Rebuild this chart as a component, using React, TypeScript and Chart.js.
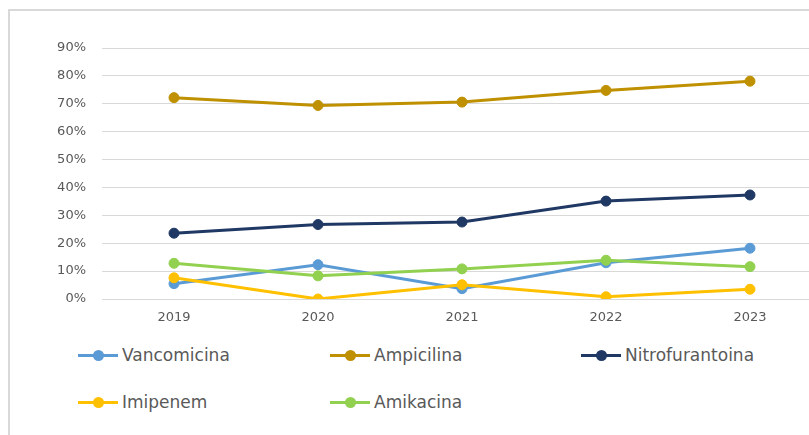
import React, { useEffect, useRef } from "react";
import { Chart, registerables } from "chart.js";

Chart.register(...registerables);

const years = ["2019", "2020", "2021", "2022", "2023"];
const vancomicina = [5.5, 12.3, 3.7, 13.0, 18.2];
const ampicilina = [72.2, 69.4, 70.6, 74.8, 78.1];
const nitrofurantoina = [23.6, 26.7, 27.6, 35.1, 37.3];
const imipenem = [7.6, 0.0, 5.1, 0.8, 3.5];
const amikacina = [12.8, 8.3, 10.8, 13.9, 11.6];
const yTicks = [0, 10, 20, 30, 40, 50, 60, 70, 80, 90];

const seriesNames = ["Vancomicina", "Ampicilina", "Nitrofurantoina", "Imipenem", "Amikacina"];
const seriesValues = [vancomicina, ampicilina, nitrofurantoina, imipenem, amikacina];
const seriesColors = ["#5B9BD5", "#BF9000", "#203864", "#FFC000", "#92D050"];

const FONT = "'DejaVu Sans', sans-serif";

export default function App() {
  const canvasRef = useRef<HTMLCanvasElement | null>(null);

  useEffect(() => {
    const canvas = canvasRef.current;
    if (!canvas) return;
    const chart = new Chart(canvas, {
      type: "line",
      data: {
        labels: years,
        datasets: seriesNames.map((name, i) => ({
          label: name,
          data: seriesValues[i],
          borderColor: seriesColors[i],
          backgroundColor: seriesColors[i],
          pointBackgroundColor: seriesColors[i],
          pointBorderColor: seriesColors[i],
          pointBorderWidth: 1,
          pointRadius: 5,
          borderWidth: 3,
          tension: 0,
          fill: false,
          order: seriesNames.length - i,
        })),
      },
      options: {
        animation: false,
        responsive: false,
        devicePixelRatio: 1,
        layout: { padding: { top: 40, right: 26, bottom: 9, left: 0 } },
        plugins: { legend: { display: false }, tooltip: { enabled: false } },
        scales: {
          x: {
            offset: true,
            grid: { display: false, drawTicks: false },
            border: { display: false },
            ticks: { color: "#595959", font: { family: FONT, size: 13 }, padding: 11, maxRotation: 0 },
            afterFit: (s: any) => {
              s.height = 30;
            },
          },
          y: {
            min: 0,
            max: 90,
            afterBuildTicks: (s: any) => {
              s.ticks = yTicks.map((v) => ({ value: v }));
            },
            grid: { color: "#d9d9d9", lineWidth: 1, drawTicks: false },
            border: { display: false },
            ticks: {
              color: "#595959",
              font: { family: FONT, size: 13 },
              padding: 16,
              callback: (v: any) => `${v}%`,
            },
            afterFit: (s: any) => {
              s.width = 94;
            },
          },
        },
      },
    });
    return () => chart.destroy();
  }, []);

  const legendCols = [78, 330, 581];
  const legendRows = [355, 402];

  return (
    <div
      style={{
        position: "fixed",
        left: 0,
        top: 0,
        width: 809,
        height: 435,
        overflow: "hidden",
        background: "#ffffff",
      }}
    >
      <div
        style={{
          position: "absolute",
          left: 8,
          top: 9,
          width: 900,
          height: 600,
          border: "2px solid #d9d9d9",
          boxSizing: "border-box",
        }}
      />
      <canvas
        ref={canvasRef}
        width={840}
        height={330}
        style={{ position: "absolute", left: 8, top: 8, width: 840, height: 330 }}
      />
      {seriesNames.map((name, i) => {
        const col = i % 3;
        const row = Math.floor(i / 3);
        return (
          <div
            key={name}
            style={{
              position: "absolute",
              left: legendCols[col],
              top: legendRows[row] - 12,
              height: 24,
              display: "flex",
              alignItems: "center",
              whiteSpace: "nowrap",
            }}
          >
            <div style={{ position: "relative", width: 40, height: 12 }}>
              <div
                style={{
                  position: "absolute",
                  left: 0,
                  top: 4.5,
                  width: 40,
                  height: 3,
                  background: seriesColors[i],
                }}
              />
              <div
                style={{
                  position: "absolute",
                  left: 14.5,
                  top: 0.5,
                  width: 11,
                  height: 11,
                  borderRadius: "50%",
                  background: seriesColors[i],
                }}
              />
            </div>
            <span style={{ marginLeft: 4, fontFamily: FONT, fontSize: 17, color: "#595959" }}>{name}</span>
          </div>
        );
      })}
    </div>
  );
}
